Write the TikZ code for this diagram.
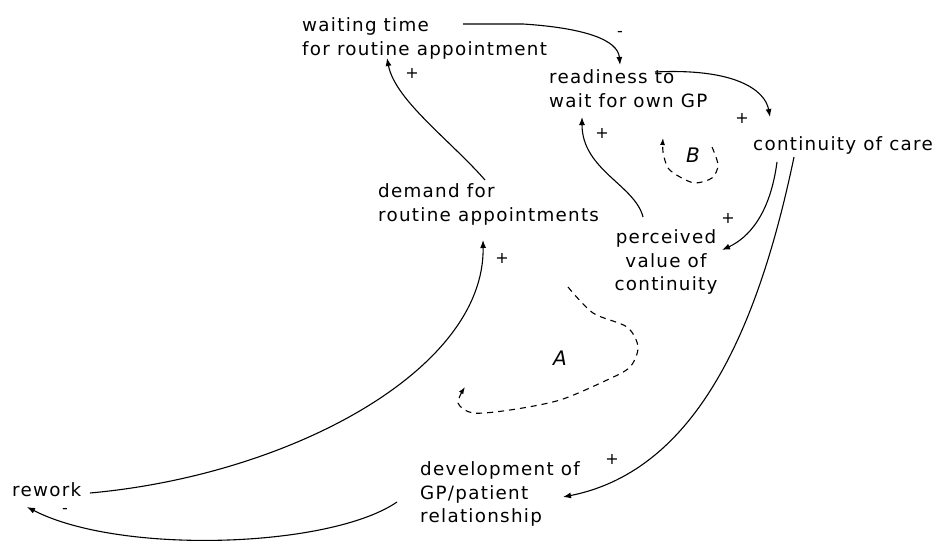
\documentclass[tikz,border=0pt]{standalone}
\usepackage{fontspec}
\setmainfont{DejaVu Sans}
\newfontfamily\lblfont[LetterSpace=7]{DejaVu Sans}
\usetikzlibrary{arrows.meta}
\tikzset{
  lbl/.style={inner sep=0pt, font=\lblfont\fontsize{18.3}{23.5}\selectfont, align=left, anchor=west},
  sgn/.style={inner sep=0pt, font=\fontsize{16}{18}\selectfont},
  loopname/.style={inner sep=0pt, font=\fontsize{20}{22}\selectfont\itshape},
  link/.style={line width=1.1pt, -{Latex[length=8pt,width=6pt]}},
  looparrow/.style={line width=1.1pt, dash pattern=on 6pt off 5pt, -{Latex[length=7pt,width=5pt]}}
}
\begin{document}
\begin{tikzpicture}[x=1pt,y=-1pt]
\path[fill=white,use as bounding box] (0,0) rectangle (936,543);

\node[lbl] (wt) at (302,38.5) {waiting time\\for routine appointment};
\node[lbl] (rd) at (549,88.5) {readiness to\\wait for own GP};
\node[lbl] (cc) at (753,145) {continuity of care};
\node[lbl] (dm) at (378,204.5) {demand for\\routine appointments};
\node[lbl, align=center, anchor=center] (pv) at (666,262) {perceived\\value of\\continuity};
\node[lbl] (dv) at (420,494) {development of\\GP/patient\\relationship};
\node[lbl] (rw) at (12,490) {rework};

\node[loopname] (la) at (560,358) {A};
\node[loopname] (lb) at (693,155) {B};

% links
\draw[link] ([shift={(161,-14.5)}]wt.west) -- ++(60,0)
  .. controls (585,28) and (618,40) .. ([shift={(71,-23.5)}]rd.west);
\draw[link] ([shift={(106,-16.5)}]rd.west)
  .. controls (735,68) and (765,90) .. ([shift={(17,-28)}]cc.west);
\draw[link] ([shift={(24,17)}]cc.west)
  .. controls (770,215) and (748,238) .. ([shift={(56,-12)}]pv.center);
\draw[link] ([shift={(41,12)}]cc.west)
  .. controls (760,320) and (700,470) .. ([shift={(143,3)}]dv.west);
\draw[link] ([shift={(-23,-45)}]pv.center)
  .. controls (635,185) and (582,170) .. ([shift={(33,28.5)}]rd.west);
\draw[link] ([shift={(107,-24.5)}]dm.west)
  .. controls (450,140) and (395,100) .. ([shift={(85,19.5)}]wt.west);
\draw[link] ([shift={(78,3)}]rw.west)
  .. controls (290,475) and (485,370) .. ([shift={(105,35.5)}]dm.west);
\draw[link] ([shift={(-23,8)}]dv.west)
  .. controls (330,548) and (120,555) .. ([shift={(15,17)}]rw.west);

% polarity signs
\node[sgn] (s1) at (620,34) {-};
\node[sgn] (s2) at (412,73) {+};
\node[sgn] (s3) at (602,133) {+};
\node[sgn] (s4) at (742,118) {+};
\node[sgn] (s5) at (728,218) {+};
\node[sgn] (s6) at (502,258) {+};
\node[sgn] (s7) at (612,459) {+};
\node[sgn] (s8) at (65,511) {-};

% loop markers
\draw[looparrow] plot[smooth] coordinates {(568,287) (593,313) (627,327) (638,347) (630,367) (607,380) (560,400) (510,410) (473,413) (458,403) (465,387)};
\draw[looparrow] plot[smooth] coordinates {(712,147) (718,165) (712,178) (695,183) (680,177) (668,168) (663,152) (663,138)};
\end{tikzpicture}
\end{document}
